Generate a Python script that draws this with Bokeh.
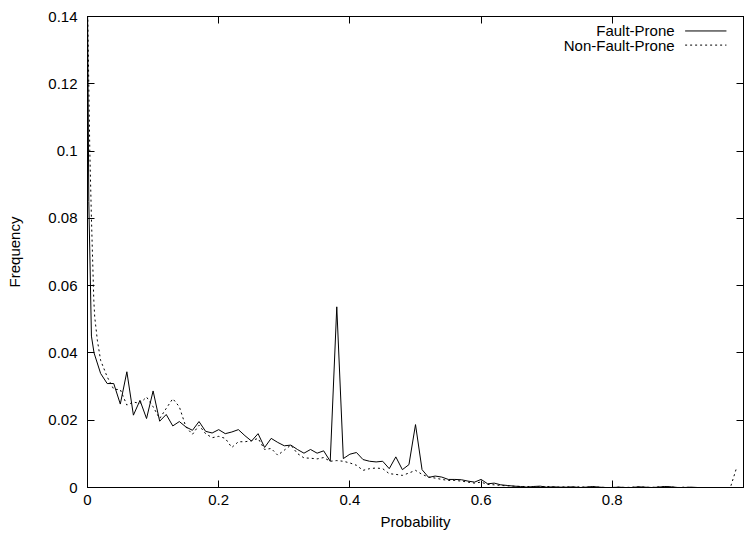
from bokeh.plotting import figure
from bokeh.models import Range1d, LinearAxis, FixedTicker, NumeralTickFormatter, Label, Arrow
from bokeh.embed import file_html
from bokeh.resources import INLINE

# ---- data ----
# regular probability bins 0.01 .. 1.00
bins = [round(0.01 * i, 2) for i in range(1, 101)]

fp_head_x = [0.0, 0.002, 0.006]
fp_head_y = [0.145, 0.085, 0.045]
fp_bins_y = [
    0.0400, 0.0339, 0.0309, 0.0309, 0.0248, 0.0344, 0.0215, 0.0259, 0.0205, 0.0287,
    0.0197, 0.0217, 0.0183, 0.0196, 0.0180, 0.0170, 0.0196, 0.0167, 0.0162, 0.0172,
    0.0160, 0.0165, 0.0172, 0.0154, 0.0138, 0.0160, 0.0119, 0.0146, 0.0134, 0.0124,
    0.0126, 0.0113, 0.0102, 0.0113, 0.0102, 0.0109, 0.0078, 0.0537, 0.0086, 0.0099,
    0.0104, 0.0083, 0.0078, 0.0076, 0.0078, 0.0056, 0.0091, 0.0053, 0.0068, 0.0187,
    0.0053, 0.0030, 0.0034, 0.0031, 0.0024, 0.0024, 0.0023, 0.0019, 0.0016, 0.0024,
    0.0011, 0.0013, 0.0008, 0.0006, 0.0004, 0.0003, 0.0001, 0.0003, 0.0004, 0.0001,
    0.0002, 0.0001, 0.0001, 0.0002, 0.0000, 0.0001, 0.0003, 0.0001, 0.0000, 0.0000,
    0.0001, 0.0000, 0.0000, 0.0002, 0.0001, 0.0000, 0.0001, 0.0003, 0.0002, 0.0000,
    0.0000, 0.0001, 0.0000, 0.0000, 0.0000, 0.0000, 0.0000, 0.0000, 0.0000, 0.0000,
]

nfp_head_x = [0.0, 0.0035, 0.006, 0.0096, 0.011, 0.015]
nfp_head_y = [0.145, 0.100, 0.080, 0.0557, 0.0507, 0.0438]
nfp_bins_y = [
    0.0378, 0.0329, 0.0292, 0.0291, 0.0245, 0.0254, 0.0250, 0.0269, 0.0240,
    0.0205, 0.0235, 0.0264, 0.0240, 0.0180, 0.0158, 0.0185, 0.0160, 0.0148, 0.0152,
    0.0146, 0.0119, 0.0136, 0.0136, 0.0139, 0.0146, 0.0113, 0.0116, 0.0096, 0.0111,
    0.0126, 0.0101, 0.0088, 0.0087, 0.0085, 0.0089, 0.0078, 0.0080, 0.0078, 0.0073,
    0.0066, 0.0051, 0.0056, 0.0058, 0.0056, 0.0041, 0.0039, 0.0036, 0.0043, 0.0051,
    0.0039, 0.0031, 0.0028, 0.0024, 0.0021, 0.0021, 0.0019, 0.0016, 0.0013, 0.0016,
    0.0009, 0.0008, 0.0006, 0.0005, 0.0004, 0.0003, 0.0003, 0.0002, 0.0002, 0.0003,
    0.0002, 0.0001, 0.0002, 0.0001, 0.0002, 0.0001, 0.0002, 0.0001, 0.0000, 0.0000,
    0.0001, 0.0000, 0.0001, 0.0002, 0.0001, 0.0000, 0.0002, 0.0002, 0.0001, 0.0000,
    0.0001, 0.0000, 0.0000, 0.0000, 0.0000, 0.0000, 0.0000, 0.0000, 0.0062,
]

x_ticks = [0, 0.2, 0.4, 0.6, 0.8]
x_ticks_top = [0, 0.2, 0.4, 0.6, 0.8, 1.0]
y_ticks = [0, 0.02, 0.04, 0.06, 0.08, 0.1, 0.12, 0.14]
series_names = ["Fault-Prone", "Non-Fault-Prone"]

fp_x = fp_head_x + bins
fp_y = fp_head_y + fp_bins_y
nfp_x = nfp_head_x + bins[1:]
nfp_y = nfp_head_y + nfp_bins_y

FONT = "Liberation Sans"
FS = "15px"

p = figure(width=744, height=537, output_backend="svg", toolbar_location=None,
           x_range=Range1d(0, 1), y_range=Range1d(0, 0.14),
           min_border_left=87, min_border_right=1, min_border_top=16, min_border_bottom=50,
           x_axis_label="Probability", y_axis_label="Frequency")
p.background_fill_color = "white"
p.border_fill_color = "white"
p.outline_line_color = "black"
p.outline_line_width = 1
p.xgrid.visible = False
p.ygrid.visible = False

p.add_layout(LinearAxis(), "above")
p.add_layout(LinearAxis(), "right")

for ax in p.axis:
    ax.axis_line_color = "black"
    ax.major_tick_line_color = "black"
    ax.major_tick_in = 7
    ax.major_tick_out = 0
    ax.minor_tick_line_color = None
    ax.major_label_text_font = FONT
    ax.major_label_text_font_size = FS
    ax.major_label_text_color = "black"
    ax.axis_label_text_font = FONT
    ax.axis_label_text_font_size = FS
    ax.axis_label_text_font_style = "normal"
    ax.axis_label_text_color = "black"

p.below[0].ticker = FixedTicker(ticks=x_ticks)
p.below[0].formatter = NumeralTickFormatter(format="0.[0]")
p.below[0].major_label_standoff = 7
p.below[0].axis_label_standoff = 5
p.left[0].ticker = FixedTicker(ticks=y_ticks)
p.left[0].formatter = NumeralTickFormatter(format="0.[00]")
p.left[0].major_label_standoff = 10
p.left[0].axis_label_standoff = 22

# mirrored inward ticks on top and right, without labels
for ax, tk in ((p.above[0], x_ticks_top), (p.right[0], y_ticks)):
    ax.ticker = FixedTicker(ticks=tk)
    ax.major_label_text_font_size = "1px"
    ax.major_label_text_color = None
    ax.major_label_standoff = 0
    ax.axis_label = None

p.line(fp_x, fp_y, line_color="black", line_width=1)
p.line(nfp_x, nfp_y, line_color="black", line_width=1, line_dash="2 3")

# key (gnuplot style: label on the left, sample on the right)
key_rows = [0.1357, 0.1315]
dashes = ["solid", "2 3"]
for name, yk, dash in zip(series_names, key_rows, dashes):
    p.add_layout(Label(x=0.895, y=yk, text=name, text_align="right", text_baseline="middle",
                       text_font=FONT, text_font_size=FS, text_color="black"))
    p.add_layout(Arrow(end=None, x_start=0.911, y_start=yk, x_end=0.974, y_end=yk,
                       line_color="black", line_width=1, line_dash=dash))

open("out.html", "w").write(file_html(p, INLINE))
